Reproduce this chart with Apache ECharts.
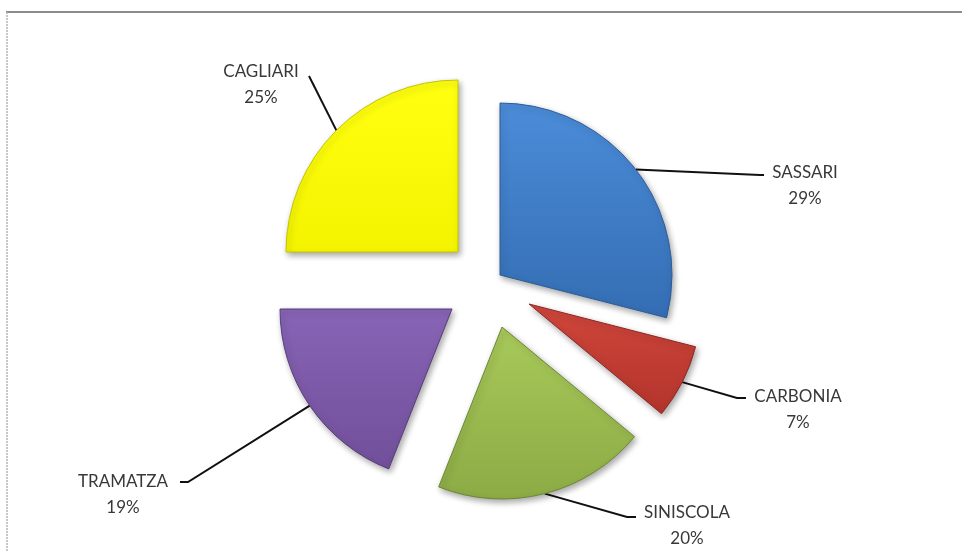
<!DOCTYPE html>
<html>
<head>
<meta charset="utf-8">
<script src="https://cdn.jsdelivr.net/npm/echarts@6/dist/echarts.min.js"></script>
<style>
  html, body { margin: 0; padding: 0; background: #fff; }
  #pieChart { width: 962px; height: 551px; }
</style>
</head>
<body>
<div id="pieChart"></div>
<script>
const cities = ['SASSARI', 'CARBONIA', 'SINISCOLA', 'TRAMATZA', 'CAGLIARI'];
const shares = [29, 7, 20, 19, 25];

// [top, bottom, edge]
const sliceColors = [
  ['#4b8cd9', '#346db3', '#2c5c98'],
  ['#d0463c', '#b3342b', '#8c2923'],
  ['#a8c95a', '#8cab45', '#6c8734'],
  ['#8864b6', '#714f9a', '#573d7a'],
  ['#ffff10', '#f4f400', '#c4c400'],
];

// every slice is pulled out by its own amount, so each gets its own centre
const sliceCenters = [[500, 275], [529, 304], [502, 327], [452, 309], [458, 252]];
const labelSpots = [[805, 186], [798, 410], [687, 526], [123, 495], [261, 85]];
const lineEnds = [
  [[760, 175], [764, 175]],
  [[737, 398], [746, 398]],
  [[627, 517], [636, 517]],
  [[188, 482], [180, 482]],
  [[309, 76], [309, 76]],
];

const myChart = echarts.init(document.getElementById('pieChart'));

const series = cities.map((city, i) => ({
  type: 'pie',
  silent: true,
  center: sliceCenters[i],
  radius: [0, 172],
  startAngle: 90,
  clockwise: true,
  avoidLabelOverlap: false,
  emphasis: { disabled: true },
  labelLayout: (params) => ({
    x: labelSpots[i][0],
    y: labelSpots[i][1],
    align: 'center',
    verticalAlign: 'middle',
    labelLinePoints: [params.labelLinePoints ? params.labelLinePoints[0] : lineEnds[i][0], lineEnds[i][0], lineEnds[i][1]],
  }),
  data: cities.map((name, j) => {
    if (j !== i) {
      return {
        name,
        value: shares[j],
        itemStyle: { color: 'transparent', borderWidth: 0 },
        label: { show: false },
        labelLine: { show: false },
      };
    }
    return {
      name,
      value: shares[j],
      itemStyle: {
        color: new echarts.graphic.LinearGradient(0, 0, 0, 1, [
          { offset: 0, color: sliceColors[j][0] },
          { offset: 1, color: sliceColors[j][1] },
        ]),
        borderColor: sliceColors[j][2],
        borderWidth: 1,
        shadowBlur: 6,
        shadowOffsetX: 2,
        shadowOffsetY: 3,
        shadowColor: 'rgba(0,0,0,0.35)',
      },
      label: {
        show: true,
        position: 'outside',
        formatter: (p) => p.name + '\n' + Math.round(p.percent) + '%',
        fontFamily: 'Lato',
        fontSize: 17,
        lineHeight: 26,
        color: '#383838',
      },
      labelLine: {
        show: true,
        lineStyle: { color: '#111', width: 2 },
      },
    };
  }),
}));

const option = {
  animation: false,
  graphic: [
    {
      type: 'line',
      shape: { x1: 6, y1: 12, x2: 962, y2: 12 },
      style: { stroke: '#8c8c8c', lineWidth: 2 },
    },
    {
      type: 'line',
      shape: { x1: 7, y1: 12, x2: 7, y2: 551 },
      style: { stroke: '#b5b5b5', lineWidth: 1.5, lineDash: [2, 1] },
    },
  ],
  series: series,
};

myChart.setOption(option);
</script>
</body>
</html>
